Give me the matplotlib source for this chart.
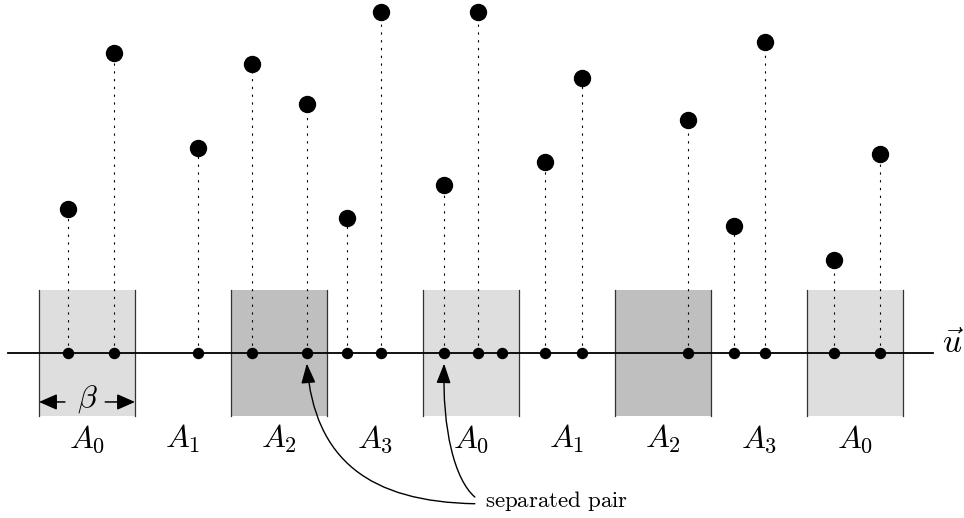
import numpy as np
import matplotlib
matplotlib.use("Agg")
import matplotlib.pyplot as plt
from matplotlib.patches import Rectangle, FancyArrowPatch
from matplotlib.path import Path

plt.rcParams['mathtext.fontset'] = 'cm'

# === DATA (units: one region width = beta = 1) ===
region_labels = ['A_0', 'A_1', 'A_2', 'A_3', 'A_0', 'A_1', 'A_2', 'A_3', 'A_0']
box_regions = [0, 2, 4, 6, 8]
box_colors = ['#dedede', '#bfbfbf', '#dedede', '#bfbfbf', '#dedede']

# projections on the axis and heights of the points above them
point_x = [0.30, 0.78, 1.66, 2.22, 2.79, 3.21, 3.56, 4.22, 4.57, 4.82,
           5.27, 5.66, 6.76, 7.24, 7.56, 8.28, 8.76]
point_h = [1.50, 3.12, 2.14, 3.01, 2.59, 1.41, 3.55, 1.75, 3.55, np.nan,
           1.99, 2.86, 2.43, 1.32, 3.24, 0.97, 2.07]

# the pair that the annotation points to
pair_idx = [4, 7]

# === PLOT ===
fig = plt.figure(figsize=(9.64, 5.18), dpi=100)
ax = fig.add_axes([0, 0, 1, 1])
ax.set_xlim(-39 / 96, 925 / 96)
ax.set_ylim(-165 / 96, 353 / 96)
ax.axis('off')

box_half = 0.66
for r, c in zip(box_regions, box_colors):
    ax.add_patch(Rectangle((r, -box_half), 1, 2 * box_half, facecolor=c,
                           edgecolor='none', zorder=1))
    ax.plot([r, r], [-box_half, box_half], color='#333333', lw=0.9, zorder=2)
    ax.plot([r + 1, r + 1], [-box_half, box_half], color='#333333', lw=0.9, zorder=2)

# axis
ax.plot([-0.32, 9.31], [0, 0], color='black', lw=1.3, zorder=3)
ax.text(9.41, 0.0, r'$\vec{u}$', fontsize=24, ha='left', va='baseline')

px = np.array(point_x)
ph = np.array(point_h)
for x, h in zip(px, ph):
    if not np.isnan(h):
        ax.plot([x, x], [0, h], color='black', lw=0.8,
                linestyle=(0, (2, 5)), zorder=2)
ax.plot(px, ph, 'o', color='black', ms=11.5, zorder=4)
ax.plot(px, np.zeros_like(px), 'o', color='black', ms=7.2, zorder=4)

for i, lab in enumerate(region_labels):
    ax.text(i + 0.5, -0.98, '$' + lab + '$', fontsize=23,
            ha='center', va='baseline')

# beta width marker
by = -0.51
for a, b in [(0.27, 0.0), (0.69, 1.0)]:
    ax.add_patch(FancyArrowPatch((a, by), (b, by),
                                 arrowstyle='-|>,head_length=0.5,head_width=0.22',
                                 mutation_scale=22, shrinkA=0, shrinkB=0,
                                 color='black', lw=1.1, zorder=5))
ax.text(0.5, by + 0.03, r'$\beta$', fontsize=23, ha='center', va='center')

# separated pair annotation
ax.text(4.65, -1.604, r'$\mathrm{separated\ pair}$', fontsize=16.5,
        ha='left', va='baseline')
curves = [
    [(4.54, -1.57), (3.45, -1.55), (2.87, -1.12)],
    [(4.54, -1.50), (4.33, -1.32), (4.20, -0.80)],
]
for k, pts in enumerate(curves):
    tip = (px[pair_idx[k]], -0.11)
    path = Path(pts + [tip], [Path.MOVETO, Path.CURVE4, Path.CURVE4, Path.CURVE4])
    ax.add_patch(FancyArrowPatch(path=path,
                                 arrowstyle='-|>,head_length=0.55,head_width=0.2',
                                 mutation_scale=22, color='black', lw=1.0,
                                 zorder=5))

plt.savefig('out.png', dpi=100)
